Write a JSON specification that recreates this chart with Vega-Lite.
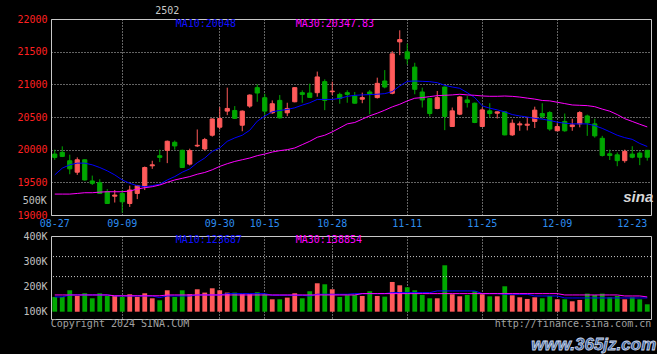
{
"$schema": "https://vega.github.io/schema/vega-lite/v6.json",
"background": "#000000",
"padding": {"left": 0, "top": 5, "right": 0, "bottom": 0},
"autosize": {"type": "pad"},
"bounds": "flush",
"spacing": 21,
"config": {"view": {"stroke": "#c8c8c8", "strokeWidth": 1}, "font": "DejaVu Sans Mono"},
"datasets": {"k": [
{"d":"2024-08-27","o":19933,"h":20000,"l":19845,"c":19882,"v":158400,"m10":19614,"m30":19320,"vm10":158400,"vm30":166300},
{"d":"2024-08-28","o":19959,"h":20051,"l":19887,"c":19897,"v":158400,"m10":19717,"m30":19320,"vm10":158400,"vm30":166300},
{"d":"2024-08-29","o":19830,"h":19923,"l":19624,"c":19706,"v":184800,"m10":19768,"m30":19320,"vm10":166300,"vm30":166300},
{"d":"2024-08-30","o":19655,"h":19882,"l":19614,"c":19845,"v":162300,"m10":19794,"m30":19330,"vm10":166300,"vm30":166300},
{"d":"2024-09-02","o":19845,"h":19850,"l":19526,"c":19536,"v":172900,"m10":19794,"m30":19341,"vm10":166300,"vm30":166300},
{"d":"2024-09-03","o":19521,"h":19603,"l":19459,"c":19485,"v":153100,"m10":19768,"m30":19341,"vm10":166300,"vm30":166300},
{"d":"2024-09-04","o":19495,"h":19547,"l":19325,"c":19330,"v":172900,"m10":19727,"m30":19350,"vm10":166300,"vm30":166300},
{"d":"2024-09-05","o":19356,"h":19397,"l":19170,"c":19176,"v":162300,"m10":19676,"m30":19356,"vm10":166300,"vm30":166300},
{"d":"2024-09-06","o":19288,"h":19382,"l":19191,"c":19305,"v":162300,"m10":19614,"m30":19356,"vm10":162300,"vm30":163000},
{"d":"2024-09-09","o":19330,"h":19382,"l":19037,"c":19202,"v":158400,"m10":19536,"m30":19356,"vm10":162300,"vm30":163000},
{"d":"2024-09-10","o":19176,"h":19449,"l":19124,"c":19382,"v":169000,"m10":19485,"m30":19367,"vm10":162300,"vm30":163000},
{"d":"2024-09-11","o":19330,"h":19460,"l":19243,"c":19449,"v":158400,"m10":19449,"m30":19397,"vm10":162300,"vm30":163000},
{"d":"2024-09-12","o":19433,"h":19742,"l":19382,"c":19727,"v":172900,"m10":19433,"m30":19418,"vm10":162300,"vm30":163000},
{"d":"2024-09-13","o":19753,"h":19830,"l":19706,"c":19768,"v":153100,"m10":19449,"m30":19433,"vm10":162300,"vm30":163000},
{"d":"2024-09-18","o":19907,"h":20000,"l":19810,"c":19882,"v":145200,"m10":19470,"m30":19459,"vm10":155800,"vm30":163000},
{"d":"2024-09-19","o":19990,"h":20139,"l":19794,"c":20129,"v":184800,"m10":19536,"m30":19500,"vm10":162300,"vm30":166300},
{"d":"2024-09-20","o":20113,"h":20139,"l":20000,"c":20057,"v":158400,"m10":19588,"m30":19536,"vm10":162300,"vm30":166300},
{"d":"2024-09-23","o":19990,"h":20000,"l":19722,"c":19727,"v":184800,"m10":19655,"m30":19562,"vm10":162300,"vm30":166300},
{"d":"2024-09-24","o":19779,"h":20015,"l":19758,"c":19985,"v":169000,"m10":19706,"m30":19588,"vm10":162300,"vm30":166300},
{"d":"2024-09-25","o":20057,"h":20309,"l":20040,"c":20067,"v":188800,"m10":19800,"m30":19624,"vm10":166300,"vm30":166300},
{"d":"2024-09-26","o":20010,"h":20180,"l":19985,"c":20154,"v":175600,"m10":19872,"m30":19651,"vm10":166300,"vm30":166300},
{"d":"2024-09-27","o":20221,"h":20477,"l":20200,"c":20470,"v":192700,"m10":19974,"m30":19692,"vm10":166300,"vm30":166300},
{"d":"2024-09-30","o":20344,"h":20651,"l":20308,"c":20477,"v":184800,"m10":20026,"m30":19744,"vm10":166300,"vm30":166300},
{"d":"2024-10-08","o":20590,"h":20949,"l":20528,"c":20631,"v":175600,"m10":20128,"m30":19785,"vm10":171600,"vm30":166300},
{"d":"2024-10-09","o":20600,"h":20667,"l":20470,"c":20480,"v":175600,"m10":20180,"m30":19820,"vm10":171600,"vm30":166300},
{"d":"2024-10-10","o":20374,"h":20600,"l":20282,"c":20590,"v":169000,"m10":20221,"m30":19846,"vm10":171600,"vm30":166300},
{"d":"2024-10-11","o":20667,"h":20846,"l":20641,"c":20836,"v":169000,"m10":20297,"m30":19872,"vm10":171600,"vm30":166300},
{"d":"2024-10-14","o":20949,"h":21000,"l":20733,"c":20867,"v":176900,"m10":20436,"m30":19908,"vm10":171600,"vm30":166300},
{"d":"2024-10-15","o":20795,"h":20856,"l":20528,"c":20590,"v":169000,"m10":20513,"m30":19933,"vm10":171600,"vm30":166300},
{"d":"2024-10-16","o":20564,"h":20754,"l":20549,"c":20703,"v":149100,"m10":20580,"m30":19964,"vm10":165000,"vm30":166300},
{"d":"2024-10-17","o":20754,"h":20836,"l":20477,"c":20487,"v":149100,"m10":20600,"m30":19985,"vm10":165000,"vm30":166300},
{"d":"2024-10-18","o":20564,"h":20718,"l":20513,"c":20631,"v":155800,"m10":20615,"m30":20000,"vm10":165000,"vm30":166300},
{"d":"2024-10-21","o":20733,"h":20955,"l":20725,"c":20949,"v":172900,"m10":20641,"m30":20026,"vm10":165000,"vm30":166300},
{"d":"2024-10-22","o":20872,"h":20908,"l":20718,"c":20846,"v":153100,"m10":20682,"m30":20077,"vm10":165000,"vm30":166300},
{"d":"2024-10-23","o":20867,"h":21010,"l":20795,"c":20800,"v":180900,"m10":20718,"m30":20128,"vm10":162300,"vm30":166300},
{"d":"2024-10-24","o":20872,"h":21195,"l":20810,"c":21113,"v":212600,"m10":20769,"m30":20190,"vm10":169000,"vm30":166300},
{"d":"2024-10-25","o":21041,"h":21077,"l":20605,"c":20754,"v":208600,"m10":20769,"m30":20221,"vm10":169000,"vm30":166300},
{"d":"2024-10-28","o":20887,"h":21041,"l":20836,"c":20897,"v":188800,"m10":20769,"m30":20272,"vm10":169000,"vm30":166300},
{"d":"2024-10-29","o":20846,"h":20872,"l":20703,"c":20785,"v":158400,"m10":20785,"m30":20333,"vm10":169000,"vm30":166300},
{"d":"2024-10-30","o":20872,"h":20908,"l":20718,"c":20846,"v":165000,"m10":20816,"m30":20395,"vm10":169000,"vm30":166300},
{"d":"2024-10-31","o":20822,"h":20883,"l":20705,"c":20711,"v":166300,"m10":20832,"m30":20416,"vm10":171600,"vm30":166300},
{"d":"2024-11-01","o":20772,"h":20873,"l":20711,"c":20797,"v":162300,"m10":20838,"m30":20467,"vm10":171600,"vm30":171600},
{"d":"2024-11-04","o":20883,"h":20914,"l":20543,"c":20848,"v":180900,"m10":20843,"m30":20518,"vm10":171600,"vm30":171600},
{"d":"2024-11-05","o":20797,"h":21102,"l":20782,"c":21015,"v":162300,"m10":20848,"m30":20558,"vm10":171600,"vm30":171600},
{"d":"2024-11-06","o":21051,"h":21218,"l":20939,"c":20959,"v":159700,"m10":20858,"m30":20604,"vm10":171600,"vm30":171600},
{"d":"2024-11-07","o":20863,"h":21508,"l":20848,"c":21467,"v":217800,"m10":20888,"m30":20655,"vm10":175600,"vm30":171600},
{"d":"2024-11-08","o":21650,"h":21827,"l":21447,"c":21685,"v":204600,"m10":20975,"m30":20695,"vm10":175600,"vm30":171600},
{"d":"2024-11-11","o":21497,"h":21624,"l":21305,"c":21391,"v":196700,"m10":21046,"m30":20746,"vm10":175600,"vm30":171600},
{"d":"2024-11-12","o":21264,"h":21330,"l":20848,"c":20924,"v":184800,"m10":21051,"m30":20787,"vm10":175600,"vm30":171600},
{"d":"2024-11-13","o":20883,"h":20949,"l":20645,"c":20761,"v":166300,"m10":21046,"m30":20797,"vm10":175600,"vm30":171600},
{"d":"2024-11-14","o":20782,"h":20790,"l":20508,"c":20553,"v":153100,"m10":21041,"m30":20812,"vm10":175600,"vm30":171600},
{"d":"2024-11-15","o":20629,"h":20898,"l":20619,"c":20797,"v":153100,"m10":21025,"m30":20827,"vm10":182200,"vm30":171600},
{"d":"2024-11-18","o":20959,"h":20965,"l":20299,"c":20508,"v":283900,"m10":20985,"m30":20832,"vm10":182200,"vm30":171600},
{"d":"2024-11-19","o":20355,"h":20645,"l":20350,"c":20594,"v":169000,"m10":20959,"m30":20838,"vm10":182200,"vm30":171600},
{"d":"2024-11-20","o":20543,"h":20822,"l":20528,"c":20807,"v":161000,"m10":20939,"m30":20848,"vm10":182200,"vm30":171600},
{"d":"2024-11-21","o":20761,"h":20822,"l":20645,"c":20721,"v":166300,"m10":20873,"m30":20838,"vm10":182200,"vm30":171600},
{"d":"2024-11-22","o":20711,"h":20721,"l":20406,"c":20416,"v":180900,"m10":20797,"m30":20832,"vm10":182200,"vm30":171600},
{"d":"2024-11-25","o":20355,"h":20645,"l":20350,"c":20609,"v":169000,"m10":20670,"m30":20822,"vm10":171600,"vm30":171600},
{"d":"2024-11-26","o":20594,"h":20711,"l":20492,"c":20553,"v":161000,"m10":20635,"m30":20817,"vm10":171600,"vm30":171600},
{"d":"2024-11-27","o":20558,"h":20585,"l":20477,"c":20579,"v":161000,"m10":20609,"m30":20817,"vm10":171600,"vm30":171600},
{"d":"2024-11-28","o":20579,"h":20589,"l":20220,"c":20226,"v":200700,"m10":20579,"m30":20821,"vm10":169000,"vm30":171600},
{"d":"2024-11-29","o":20226,"h":20463,"l":20211,"c":20405,"v":165000,"m10":20537,"m30":20816,"vm10":169000,"vm30":171600},
{"d":"2024-12-02","o":20379,"h":20432,"l":20289,"c":20395,"v":157100,"m10":20516,"m30":20805,"vm10":169000,"vm30":171600},
{"d":"2024-12-03","o":20374,"h":20500,"l":20295,"c":20390,"v":150500,"m10":20500,"m30":20789,"vm10":169000,"vm30":171600},
{"d":"2024-12-04","o":20432,"h":20658,"l":20332,"c":20605,"v":157100,"m10":20479,"m30":20774,"vm10":162300,"vm30":171600},
{"d":"2024-12-05","o":20553,"h":20710,"l":20474,"c":20511,"v":153100,"m10":20468,"m30":20753,"vm10":162300,"vm30":171600},
{"d":"2024-12-06","o":20568,"h":20589,"l":20289,"c":20316,"v":162300,"m10":20447,"m30":20747,"vm10":162300,"vm30":171600},
{"d":"2024-12-09","o":20289,"h":20405,"l":20285,"c":20353,"v":149100,"m10":20421,"m30":20726,"vm10":162300,"vm30":171600},
{"d":"2024-12-10","o":20432,"h":20553,"l":20274,"c":20289,"v":149100,"m10":20405,"m30":20705,"vm10":154400,"vm30":166300},
{"d":"2024-12-11","o":20353,"h":20474,"l":20289,"c":20379,"v":141200,"m10":20395,"m30":20684,"vm10":154400,"vm30":166300},
{"d":"2024-12-12","o":20395,"h":20589,"l":20342,"c":20568,"v":146500,"m10":20395,"m30":20679,"vm10":154400,"vm30":166300},
{"d":"2024-12-13","o":20516,"h":20537,"l":20211,"c":20411,"v":171600,"m10":20395,"m30":20674,"vm10":154400,"vm30":166300},
{"d":"2024-12-16","o":20395,"h":20474,"l":20184,"c":20211,"v":166300,"m10":20368,"m30":20658,"vm10":154400,"vm30":166300},
{"d":"2024-12-17","o":20174,"h":20211,"l":19895,"c":19911,"v":171600,"m10":20326,"m30":20621,"vm10":154400,"vm30":166300},
{"d":"2024-12-18","o":19937,"h":20000,"l":19842,"c":19911,"v":157100,"m10":20274,"m30":20589,"vm10":154400,"vm30":166300},
{"d":"2024-12-19","o":19921,"h":19958,"l":19747,"c":19832,"v":162300,"m10":20221,"m30":20537,"vm10":154400,"vm30":166300},
{"d":"2024-12-20","o":19832,"h":20000,"l":19800,"c":19974,"v":149100,"m10":20184,"m30":20474,"vm10":154400,"vm30":162300},
{"d":"2024-12-23","o":19932,"h":20053,"l":19868,"c":19884,"v":157100,"m10":20158,"m30":20432,"vm10":154400,"vm30":162300},
{"d":"2024-12-24","o":19947,"h":19974,"l":19763,"c":19884,"v":149100,"m10":20095,"m30":20389,"vm10":154400,"vm30":162300},
{"d":"2024-12-25","o":19990,"h":19995,"l":19832,"c":19884,"v":129300,"m10":20048,"m30":20348,"vm10":154400,"vm30":158400}
]},
"vconcat": [
{
"width": 600,
"height": 196,
"layer": [
{"data": {"name": "k"},
 "mark": {"type": "rule", "strokeWidth": 1},
 "encoding": {
  "x": {"field": "d", "type": "ordinal", "scale": {"paddingInner": 0.2, "paddingOuter": 0.1},
   "axis": {"values": ["2024-08-27","2024-09-09","2024-09-30","2024-10-15","2024-10-28","2024-11-11","2024-11-25","2024-12-09","2024-12-23"],
    "labelExpr": "substring(datum.value, 5)", "title": null, "ticks": false, "domain": false,
    "grid": true, "gridColor": "#c8c8c8", "gridDash": [1, 2],
    "gridOpacity": {"condition": {"test": "datum.value == '2024-08-27' || datum.value == '2024-12-23'", "value": 0}, "value": 1},
    "labelColor": "#2d8cf0", "labelFont": "DejaVu Sans Mono", "labelFontSize": 10, "labelPadding": 3, "labelAngle": 0, "labelOverlap": false, "bandPosition": 0.5}},
  "y": {"field": "l", "type": "quantitative", "scale": {"domain": [19000, 22000], "zero": false, "nice": false},
   "axis": {"values": [19000,19500,20000,20500,21000,21500,22000], "tickCount": 50, "format": "d", "title": null, "ticks": false, "domain": false,
    "grid": true, "gridColor": "#c8c8c8", "gridDash": [1, 2], "labelColor": "#ff2020", "labelFont": "DejaVu Sans Mono",
    "labelFontSize": 10, "labelPadding": 4, "minExtent": 50, "labelFlush": false, "labelOverlap": false}},
  "y2": {"field": "h"},
  "color": {"condition": {"test": "datum.c >= datum.o", "value": "#ff5a5a"}, "value": "#00a800"}
 }},
{"data": {"name": "k"},
 "mark": {"type": "bar", "width": {"band": 0.7}, "strokeWidth": 1},
 "encoding": {
  "x": {"field": "d", "type": "ordinal"},
  "y": {"field": "o", "type": "quantitative"},
  "y2": {"field": "c"},
  "color": {"condition": {"test": "datum.c >= datum.o", "value": "#ff5a5a"}, "value": "#00a800"},
  "stroke": {"condition": {"test": "datum.c >= datum.o", "value": "#ff5a5a"}, "value": "#00a800"}
 }},
{"data": {"name": "k"},
 "mark": {"type": "line", "color": "#0000ff", "strokeWidth": 1},
 "encoding": {"x": {"field": "d", "type": "ordinal"}, "y": {"field": "m10", "type": "quantitative"}}},
{"data": {"name": "k"},
 "mark": {"type": "line", "color": "#ff00ff", "strokeWidth": 1},
 "encoding": {"x": {"field": "d", "type": "ordinal"}, "y": {"field": "m30", "type": "quantitative"}}},
{"data": {"values": [{}]},
 "mark": {"type": "text", "text": "2502", "color": "#c8c8c8", "fontSize": 10, "align": "center", "baseline": "middle"},
 "encoding": {"x": {"datum": "2024-09-19", "type": "ordinal"}, "y": {"datum": 22122, "type": "quantitative"}}},
{"data": {"values": [{}]},
 "mark": {"type": "text", "text": "MA10:20048", "color": "#1010ff", "fontSize": 10, "align": "left", "baseline": "middle", "dx": 1},
 "encoding": {"x": {"datum": "2024-09-20", "type": "ordinal"}, "y": {"datum": 21923, "type": "quantitative"}}},
{"data": {"values": [{}]},
 "mark": {"type": "text", "text": "MA30:20347.83", "color": "#ff00ff", "fontSize": 10, "align": "left", "baseline": "middle", "dx": 1},
 "encoding": {"x": {"datum": "2024-10-21", "type": "ordinal"}, "y": {"datum": 21923, "type": "quantitative"}}},
{"data": {"values": [{}]},
 "mark": {"type": "text", "text": "500K", "color": "#c0c0c0", "fontSize": 10, "align": "right", "baseline": "middle", "dx": -8},
 "encoding": {"x": {"datum": "2024-08-27", "type": "ordinal"}, "y": {"datum": 19214, "type": "quantitative"}}},
{"data": {"values": [{}]},
 "mark": {"type": "text", "text": "sina", "color": "#d8d8d8", "font": "Liberation Sans", "fontSize": 15, "fontStyle": "italic", "fontWeight": "bold", "align": "right", "baseline": "middle", "dx": 6},
 "encoding": {"x": {"datum": "2024-12-25", "type": "ordinal"}, "y": {"datum": 19275, "type": "quantitative"}}}
]
},
{
"width": 600,
"height": 83,
"layer": [
{"data": {"name": "k"},
 "mark": {"type": "bar", "width": {"band": 0.8}},
 "encoding": {
  "x": {"field": "d", "type": "ordinal", "scale": {"paddingInner": 0.2, "paddingOuter": 0.1},
   "axis": {"values": ["2024-08-27","2024-09-09","2024-09-30","2024-10-15","2024-10-28","2024-11-11","2024-11-25","2024-12-09","2024-12-23"],
    "labels": false, "title": null, "ticks": false, "domain": false,
    "grid": true, "gridColor": "#c8c8c8", "gridDash": [1, 2],
    "gridOpacity": {"condition": {"test": "datum.value == '2024-08-27' || datum.value == '2024-12-23'", "value": 0}, "value": 1},
    "bandPosition": 0.5}},
  "y": {"field": "v", "type": "quantitative", "scale": {"domain": [71000, 400000], "zero": false, "nice": false},
   "axis": {"values": [100000, 200000, 300000, 400000], "tickCount": 50, "labelExpr": "(datum.value / 1000) + 'K'", "title": null, "ticks": false, "domain": false,
    "grid": false, "labelColor": "#c0c0c0", "labelFont": "DejaVu Sans Mono", "labelFontSize": 10, "labelPadding": 4, "minExtent": 50, "labelFlush": false, "labelOverlap": false}},
  "y2": {"datum": 100000},
  "color": {"condition": {"test": "datum.c >= datum.o", "value": "#ff5a5a"}, "value": "#00a800"}
 }},
{"data": {"values": [{}]},
 "mark": {"type": "rule", "color": "#c8c8c8", "strokeDash": [1, 2], "strokeWidth": 1},
 "encoding": {"y": {"datum": 239100, "type": "quantitative"}}},
{"data": {"values": [{}]},
 "mark": {"type": "rule", "color": "#c8c8c8", "strokeDash": [1, 2], "strokeWidth": 1},
 "encoding": {"y": {"datum": 318400, "type": "quantitative"}}},
{"data": {"name": "k"},
 "mark": {"type": "line", "color": "#0000ff", "strokeWidth": 1},
 "encoding": {"x": {"field": "d", "type": "ordinal"}, "y": {"field": "vm10", "type": "quantitative"}}},
{"data": {"name": "k"},
 "mark": {"type": "line", "color": "#ff00ff", "strokeWidth": 1},
 "encoding": {"x": {"field": "d", "type": "ordinal"}, "y": {"field": "vm30", "type": "quantitative"}}},
{"data": {"values": [{}]},
 "mark": {"type": "text", "text": "MA10:123687", "color": "#1010ff", "fontSize": 10, "align": "left", "baseline": "middle", "dx": 1},
 "encoding": {"x": {"datum": "2024-09-20", "type": "ordinal"}, "y": {"datum": 383000, "type": "quantitative"}}},
{"data": {"values": [{}]},
 "mark": {"type": "text", "text": "MA30:138854", "color": "#ff00ff", "fontSize": 10, "align": "left", "baseline": "middle", "dx": 1},
 "encoding": {"x": {"datum": "2024-10-21", "type": "ordinal"}, "y": {"datum": 383000, "type": "quantitative"}}},
{"data": {"values": [{}]},
 "mark": {"type": "text", "text": "Copyright 2024 SINA.COM", "color": "#a0a0a0", "fontSize": 10, "align": "left", "baseline": "middle", "dx": -4},
 "encoding": {"x": {"datum": "2024-08-27", "type": "ordinal"}, "y": {"datum": 50000, "type": "quantitative"}}},
{"data": {"values": [{}]},
 "mark": {"type": "text", "text": "http://finance.sina.com.cn", "color": "#a0a0a0", "fontSize": 10, "align": "right", "baseline": "middle", "dx": 4},
 "encoding": {"x": {"datum": "2024-12-25", "type": "ordinal"}, "y": {"datum": 50000, "type": "quantitative"}}},
{"data": {"values": [{}]},
 "mark": {"type": "text", "text": "www.365jz.com", "font": "Liberation Sans", "fontSize": 17, "fontStyle": "italic", "fontWeight": "bold", "color": "#3a64a0", "stroke": "#c8d2e6", "strokeWidth": 0.8, "align": "right", "baseline": "middle", "dx": 9},
 "encoding": {"x": {"datum": "2024-12-25", "type": "ordinal"}, "y": {"datum": -32000, "type": "quantitative"}}}
]
}
]
}
